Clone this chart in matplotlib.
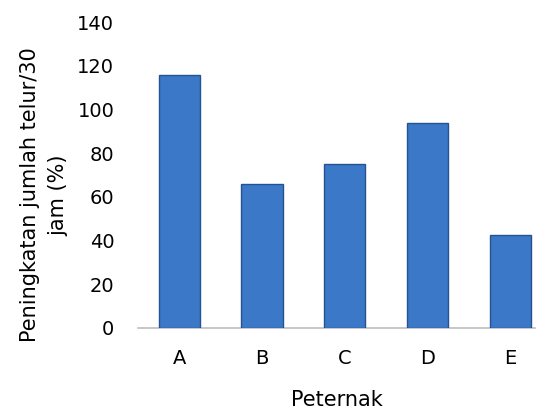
import matplotlib.pyplot as plt
import numpy as np

peternak = ["A", "B", "C", "D", "E"]
peningkatan = [116, 66, 75, 94, 42.5]
yticks = [0, 20, 40, 60, 80, 100, 120, 140]

plt.rcParams['font.family'] = ['DejaVu Sans']

fig = plt.figure(figsize=(5.41, 4.11), dpi=100)
ax = fig.add_axes([0.255, 0.202, 0.734, 0.744])

x = np.arange(len(peternak))
ax.bar(x, peningkatan, width=0.5, color='#3B78C7', edgecolor='#24548F', linewidth=1.0, zorder=3)

ax.set_xlim(-0.5, 4.3)
ax.set_ylim(0, 140)
ax.set_yticks(yticks)
ax.set_xticks(x)
ax.set_xticklabels(peternak)
ax.tick_params(axis='both', length=0, labelsize=14, colors='black')
ax.tick_params(axis='x', pad=15)
ax.tick_params(axis='y', pad=17)

for s in ['top', 'right', 'left']:
    ax.spines[s].set_visible(False)
ax.spines['bottom'].set_color('#BFBFBF')
ax.spines['bottom'].set_linewidth(1.2)

ax.set_xlabel("Peternak", fontsize=15, labelpad=16)
ax.set_ylabel("Peningkatan jumlah telur/30\njam (%)", fontsize=15, linespacing=1.55)
ax.yaxis.set_label_coords(-0.175, 0.435)

fig.savefig("out.png", dpi=100)
